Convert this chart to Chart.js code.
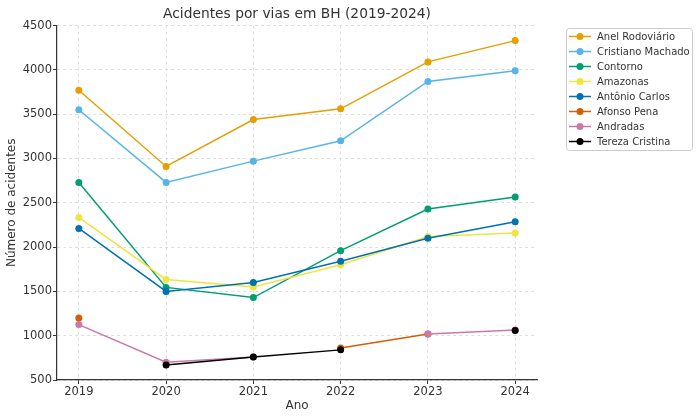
<!DOCTYPE html>
<html>
<head>
<meta charset="utf-8">
<script src="https://cdn.jsdelivr.net/npm/chart.js@4.4.1/dist/chart.umd.min.js"></script>
<style>
  html, body { margin: 0; padding: 0; background: #fff; }
  #wrap { width: 700px; height: 419px; }
</style>
</head>
<body>
<div id="wrap"><canvas id="acidentesChart" width="700" height="419"></canvas></div>
<script>
// anos e valores
const years = [2019, 2020, 2021, 2022, 2023, 2024];
const seriesNames = ['Anel Rodoviário', 'Cristiano Machado', 'Contorno', 'Amazonas',
                     'Antônio Carlos', 'Afonso Pena', 'Andradas', 'Tereza Cristina'];
const anel      = [3770, 2910, 3440, 3560, 4090, 4330];
const cristiano = [3550, 2730, 2970, 3200, 3870, 3990];
const contorno  = [2730, 1545, 1430, 1960, 2430, 2565];
const amazonas  = [2335, 1635, 1550, 1800, 2120, 2160];
const antonio   = [2210, 1500, 1600, 1840, 2100, 2285];
const afonso    = [1200, null, null, 860, 1020, null];
const andradas  = [1125, 700, 760, null, 1020, 1065];
const tereza    = [null, 670, 760, 840, null, 1060];
const yTicks = [500, 1000, 1500, 2000, 2500, 3000, 3500, 4000, 4500];

const allValues = [anel, cristiano, contorno, amazonas, antonio, afonso, andradas, tereza];
const colors = ['#E69F00', '#56B4E9', '#009E73', '#F0E442', '#0072B2', '#D55E00', '#CC79A7', '#000000'];

const FONT = "'DejaVu Sans', sans-serif";
const TEXT = '#333333';

const datasets = seriesNames.map(function(name, i) {
  return {
    label: name,
    data: years.map(function(y, j) { return { x: y, y: allValues[i][j] }; }),
    borderColor: colors[i],
    backgroundColor: colors[i],
    pointBackgroundColor: colors[i],
    pointBorderWidth: 0,
    pointRadius: 3.5,
    borderWidth: 1.5,
    order: seriesNames.length - i, // as últimas séries ficam por cima
    spanGaps: false
  };
});

// legenda com caixa, desenhada à mão
const legendBox = {
  id: 'legendBox',
  afterDraw(chart) {
    const ctx = chart.ctx;
    const x0 = 566, y0 = 28, w = 126, h = 122;
    ctx.save();
    ctx.fillStyle = 'rgba(255,255,255,0.8)';
    ctx.strokeStyle = '#cccccc';
    ctx.lineWidth = 1;
    ctx.beginPath();
    ctx.roundRect(x0 + 0.5, y0 + 0.5, w, h, 3);
    ctx.fill();
    ctx.stroke();
    ctx.font = '10px ' + FONT;
    ctx.textBaseline = 'middle';
    chart.data.datasets.forEach(function(ds, i) {
      const y = y0 + 8.5 + i * 15;
      ctx.strokeStyle = ds.borderColor;
      ctx.lineWidth = 1.5;
      ctx.beginPath();
      ctx.moveTo(x0 + 3, y);
      ctx.lineTo(x0 + 25, y);
      ctx.stroke();
      ctx.fillStyle = ds.borderColor;
      ctx.beginPath();
      ctx.arc(x0 + 14, y, 3.5, 0, Math.PI * 2);
      ctx.fill();
      ctx.fillStyle = TEXT;
      ctx.fillText(ds.label, x0 + 31, y + 0.5);
    });
    ctx.restore();
  }
};

const ctx = document.getElementById('acidentesChart').getContext('2d');
new Chart(ctx, {
  type: 'line',
  data: { datasets: datasets },
  options: {
    responsive: false,
    animation: false,
    layout: { padding: { left: 0, right: 163, top: 0, bottom: 0 } },
    plugins: {
      legend: { display: false },
      tooltip: { enabled: false },
      title: {
        display: true,
        text: 'Acidentes por vias em BH (2019-2024)',
        fullSize: false,
        color: TEXT,
        font: { family: FONT, size: 13.8, weight: 'normal' },
        padding: { top: 6, bottom: 3 }
      }
    },
    scales: {
      x: {
        type: 'linear',
        min: 2018.75,
        max: 2024.25,
        afterBuildTicks: function(scale) {
          scale.ticks = years.map(function(v) { return { value: v }; });
        },
        afterFit: function(scale) { scale.height = 39; },
        ticks: {
          color: TEXT,
          font: { family: FONT, size: 11.5 },
          padding: 1,
          maxRotation: 0,
          callback: function(v) { return String(v); }
        },
        grid: {
          color: '#d6d6d6',
          lineWidth: 0.8,
          tickLength: 4,
          tickColor: TEXT,
          tickWidth: 1
        },
        border: { display: true, color: TEXT, width: 1.2, dash: [3, 3] },
        title: {
          display: true,
          text: 'Ano',
          color: TEXT,
          font: { family: FONT, size: 12 },
          padding: { top: 0, bottom: 6 }
        }
      },
      y: {
        min: 500,
        max: 4500,
        afterBuildTicks: function(scale) {
          scale.ticks = yTicks.map(function(v) { return { value: v }; });
        },
        afterFit: function(scale) { scale.width = 57; },
        ticks: {
          color: TEXT,
          font: { family: FONT, size: 11.5 },
          padding: 1,
          callback: function(v) { return String(v); }
        },
        grid: {
          color: '#d6d6d6',
          lineWidth: 0.8,
          tickLength: 4,
          tickColor: TEXT,
          tickWidth: 1
        },
        border: { display: true, color: TEXT, width: 1.2, dash: [3, 3] },
        title: {
          display: true,
          text: 'Número de acidentes',
          color: TEXT,
          font: { family: FONT, size: 12 },
          padding: { top: 5, bottom: 0 }
        }
      }
    }
  },
  plugins: [legendBox]
});
</script>
</body>
</html>
